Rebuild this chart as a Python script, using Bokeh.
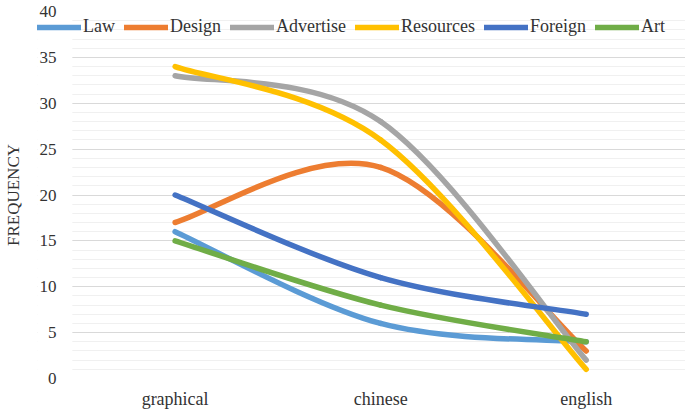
import numpy as np
from bokeh.plotting import figure
from bokeh.models import (ColumnDataSource, Legend, LegendItem, SingleIntervalTicker,
                          FixedTicker, Range1d, BoxAnnotation)
from bokeh.embed import file_html
from bokeh.resources import INLINE

# ---- data ----
categories = ["graphical", "chinese", "english"]
law = [16, 6, 4]
design = [17, 23, 3]
advertise = [33, 28, 2]
resources = [34, 26, 1]
foreign = [20, 11, 7]
art = [15, 8, 4]
series_names = ["Law", "Design", "Advertise", "Resources", "Foreign", "Art"]
series_values = [law, design, advertise, resources, foreign, art]
colors = ["#5B9BD5", "#ED7D31", "#A5A5A5", "#FFC000", "#4472C4", "#70AD47"]

FONT = "Liberation Serif"
TEXT = "#333333"


def smooth_segments(xs, ys):
    """Catmull-Rom style cubic Bezier segments (Excel-like smoothed line)."""
    n = len(xs)
    d = dict(x0=[], y0=[], x1=[], y1=[], cx0=[], cy0=[], cx1=[], cy1=[])
    for i in range(n - 1):
        ip = i - 1 if i > 0 else i
        inx = i + 2 if i + 2 < n else i + 1
        d["x0"].append(xs[i]); d["y0"].append(ys[i])
        d["x1"].append(xs[i + 1]); d["y1"].append(ys[i + 1])
        d["cx0"].append(xs[i] + (xs[i + 1] - xs[ip]) / 6)
        d["cy0"].append(ys[i] + (ys[i + 1] - ys[ip]) / 6)
        d["cx1"].append(xs[i + 1] - (xs[inx] - xs[i]) / 6)
        d["cy1"].append(ys[i + 1] - (ys[inx] - ys[i]) / 6)
    return d


xpos = list(range(len(categories)))

# frame spans x 34..685 (px); category spacing ~206.5 px
p = figure(width=685, height=411, output_backend="svg", toolbar_location=None,
           x_range=Range1d(-0.6695, 2.483), y_range=Range1d(0, 40),
           min_border_left=34, min_border_right=0, min_border_top=11,
           min_border_bottom=33, title=None)
p.outline_line_color = None
p.background_fill_color = "white"

# y axis
yt = SingleIntervalTicker(interval=5, num_minor_ticks=5)
p.yaxis.ticker = yt
p.ygrid.ticker = yt
p.ygrid.grid_line_color = "#d9d9d9"
p.ygrid.minor_grid_line_color = "#f0f0f0"
p.yaxis.axis_line_color = None
p.yaxis.major_tick_line_color = None
p.yaxis.minor_tick_line_color = None
p.yaxis.major_tick_out = 0
p.yaxis.minor_tick_out = 0
p.yaxis.major_label_standoff = -19
p.yaxis.major_label_text_font = FONT
p.yaxis.major_label_text_font_size = "17px"
p.yaxis.major_label_text_color = TEXT
p.yaxis.axis_label = "FREQUENCY"
p.yaxis.axis_label_text_font = FONT
p.yaxis.axis_label_text_font_size = "17px"
p.yaxis.axis_label_text_font_style = "normal"
p.yaxis.axis_label_text_color = TEXT
p.yaxis.axis_label_standoff = 14

# x axis
p.xaxis.ticker = FixedTicker(ticks=xpos)
p.xaxis.major_label_overrides = {i: c for i, c in zip(xpos, categories)}
p.xaxis.axis_line_color = None
p.xaxis.major_tick_line_color = None
p.xaxis.minor_tick_line_color = None
p.xaxis.major_tick_out = 0
p.xaxis.major_label_standoff = 10
p.xaxis.major_label_text_font = FONT
p.xaxis.major_label_text_font_size = "18px"
p.xaxis.major_label_text_color = TEXT
p.xgrid.visible = False

# blank strip left of the plotting area (keeps gridlines starting at the area edge)
p.add_layout(BoxAnnotation(right=-0.5, fill_color="white", fill_alpha=1.0,
                           line_color=None, level="underlay"))

items = []
for name, vals, col in zip(series_names, series_values, colors):
    src = ColumnDataSource(smooth_segments(xpos, vals))
    r = p.bezier(x0="x0", y0="y0", x1="x1", y1="y1", cx0="cx0", cy0="cy0",
                 cx1="cx1", cy1="cy1", source=src, line_color=col,
                 line_width=5.5, line_cap="round")
    items.append(LegendItem(label=name, renderers=[r]))

legend = Legend(items=items, orientation="horizontal", location=(0, 341),
                padding=0, margin=0, spacing=9, glyph_width=44, glyph_height=18,
                label_height=18, label_standoff=2, label_text_font=FONT,
                label_text_font_size="18px", label_text_color=TEXT,
                border_line_color=None, background_fill_alpha=0)
p.add_layout(legend, "center")

open("out.html", "w").write(file_html(p, INLINE))
